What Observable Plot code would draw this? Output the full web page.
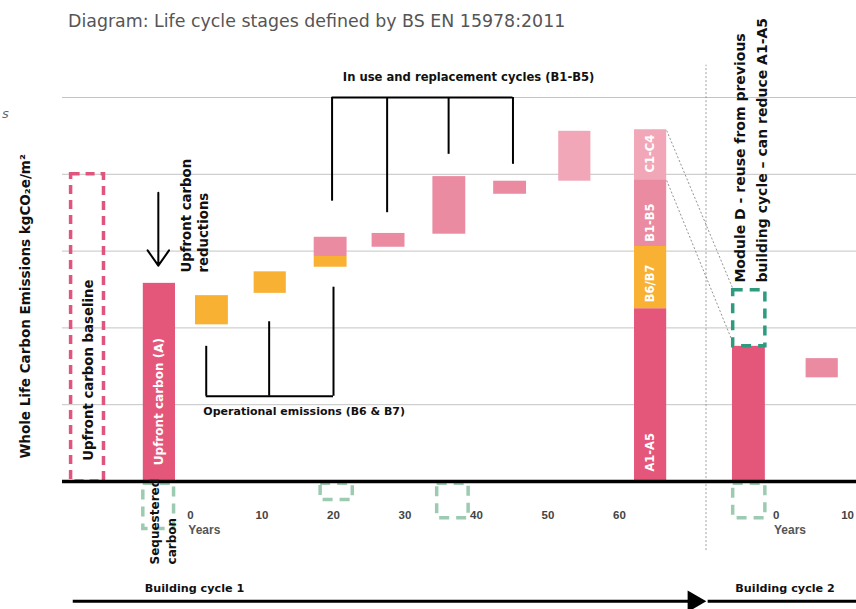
<!DOCTYPE html>
<html><head><meta charset="utf-8">
<script src="https://cdn.jsdelivr.net/npm/d3@7"></script>
<script src="https://cdn.jsdelivr.net/npm/@observablehq/plot@0.6"></script>
<style>
body{margin:0;background:#fff;}
#wrap{position:relative;width:856px;height:609px;overflow:hidden;}
#title{position:absolute;left:68px;top:11px;font:17.4px "DejaVu Sans";color:#555;white-space:nowrap;}
#frag{position:absolute;left:2px;top:106px;font:italic 13px "DejaVu Sans";color:#666}
</style></head><body>
<div id="wrap"><div id="chart"></div><div id="title">Diagram: Life cycle stages defined by BS EN 15978:2011</div><div id="frag">s</div></div>
<script>
// ---- data (x in years, y in emission units; cycle 2 years are offset) ----
const stages = ["A", "B6/B7", "B1-B5", "C1-C4"];
const stageColors = ["#e4577b", "#f8b133", "#ea8ba2", "#f2a7b8"];
const cycle2Offset = 81.9;
const cycle1Ticks = [0, 10, 20, 30, 40, 50, 60];
const cycle2Ticks = [0, 10];

const upfrontBars = [
  {stage: "A", cycle: 1, start: -6.6, end: -2.1, low: 0, high: 2.58},
  {stage: "A", cycle: 2, start: -6.1, end: -1.5, low: 0, high: 1.76}
];
const operationalBars = [
  {stage: "B6/B7", cycle: 1, start: 0.7, end: 5.3, low: 2.04, high: 2.42},
  {stage: "B6/B7", cycle: 1, start: 8.9, end: 13.4, low: 2.45, high: 2.73},
  {stage: "B6/B7", cycle: 1, start: 17.3, end: 21.9, low: 2.79, high: 2.93}
];
const replacementBars = [
  {stage: "B1-B5", cycle: 1, start: 17.3, end: 21.9, low: 2.93, high: 3.18},
  {stage: "B1-B5", cycle: 1, start: 25.4, end: 30.0, low: 3.05, high: 3.23},
  {stage: "B1-B5", cycle: 1, start: 33.9, end: 38.5, low: 3.22, high: 3.97},
  {stage: "B1-B5", cycle: 1, start: 42.4, end: 47.0, low: 3.74, high: 3.91},
  {stage: "B1-B5", cycle: 2, start: 4.2, end: 8.7, low: 1.35, high: 1.60}
];
const endOfLifeBars = [
  {stage: "C1-C4", cycle: 1, start: 51.5, end: 56.0, low: 3.91, high: 4.56}
];
const totalStack = [
  {stage: "A", label: "A1-A5", low: 0, high: 2.25, labelAt: 0.38},
  {stage: "B6/B7", label: "B6/B7", low: 2.25, high: 3.06, labelAt: 2.58},
  {stage: "B1-B5", label: "B1-B5", low: 3.06, high: 3.93, labelAt: 3.37},
  {stage: "C1-C4", label: "C1-C4", low: 3.93, high: 4.58, labelAt: 4.27}
];
const totalStackYears = [62.1, 66.6];
const baselineBox = {start: -16.7, end: -12.1, low: 0, high: 4.0};
const moduleDBox = {cycle: 2, start: -6.0, end: -1.5, low: 1.76, high: 2.49};
const sequesteredBoxes = [
  {cycle: 1, start: -6.6, end: -2.3, low: -0.62, high: -0.03},
  {cycle: 1, start: 18.2, end: 22.7, low: -0.24, high: -0.03},
  {cycle: 1, start: 34.5, end: 38.9, low: -0.48, high: -0.03},
  {cycle: 2, start: -6.0, end: -1.5, low: -0.48, high: -0.03}
];
const gridValues = [1, 2, 3, 4, 5];
const operationalLegs = [{x: 2.2, y: 1.76}, {x: 11.0, y: 2.08}, {x: 20.0, y: 2.53}];
const operationalBase = 1.11;
const replacementLegs = [{x: 19.8, y: 3.65}, {x: 27.5, y: 3.50}, {x: 36.1, y: 4.26}, {x: 45.1, y: 4.13}];
const replacementTop = 5.0;

// ---- derived ----
const T = (cycle, yr) => yr + (cycle === 2 ? cycle2Offset : 0);
const toRect = d => ({stage: d.stage, x1: T(d.cycle, d.start), x2: T(d.cycle, d.end), y1: d.low, y2: d.high});
const bars = [...upfrontBars, ...operationalBars, ...replacementBars, ...endOfLifeBars].map(toRect)
  .concat(totalStack.map(d => ({stage: d.stage, x1: totalStackYears[0], x2: totalStackYears[1], y1: d.low, y2: d.high})));
const stackMid = (totalStackYears[0] + totalStackYears[1]) / 2;
const xLeft = -17.9, xRight = 93.3, divider = 72.1;
const font = "DejaVu Sans";
const tickLabels = cycle1Ticks.map(t => ({x: t, t})).concat(cycle2Ticks.map(t => ({x: T(2, t), t})));

const chart = Plot.plot({
  width: 856, height: 609,
  marginLeft: 190, marginRight: 237, marginTop: 97, marginBottom: 128,
  x: {domain: [0, 60], axis: null},
  y: {domain: [0, 5], axis: null},
  color: {domain: stages, range: stageColors},
  marks: [
    Plot.ruleY(gridValues, {x1: xLeft, x2: xRight, stroke: "#c4c4c4", strokeWidth: 1}),
    Plot.ruleX([divider], {y1: -0.9, y2: 5.42, stroke: "#888", strokeWidth: 0.8, strokeDasharray: "2,2"}),
    Plot.link([{x1: totalStackYears[1], y1: 4.57, x2: T(2, moduleDBox.start), y2: 2.5},
               {x1: totalStackYears[1], y1: 3.92, x2: T(2, moduleDBox.start), y2: 1.8}],
      {x1: "x1", y1: "y1", x2: "x2", y2: "y2", stroke: "#777", strokeWidth: 0.8, strokeDasharray: "2,2"}),
    Plot.rect(bars, {x1: "x1", x2: "x2", y1: "y1", y2: "y2", fill: "stage"}),
    Plot.rect([baselineBox], {x1: "start", x2: "end", y1: "low", y2: "high", fill: "none", stroke: "#e0557e", strokeWidth: 3.5, strokeDasharray: "9,6"}),
    Plot.rect([moduleDBox].map(toRect), {x1: "x1", x2: "x2", y1: "y1", y2: "y2", fill: "none", stroke: "#2e9a7e", strokeWidth: 3.5, strokeDasharray: "10,7"}),
    Plot.rect(sequesteredBoxes.map(toRect), {x1: "x1", x2: "x2", y1: "y1", y2: "y2", fill: "none", stroke: "#9ccbb1", strokeWidth: 3.5, strokeDasharray: "10,7"}),
    Plot.ruleY([0], {x1: xLeft, x2: xRight, stroke: "#000", strokeWidth: 3.5}),
    // brackets
    Plot.ruleX(operationalLegs, {x: "x", y1: operationalBase, y2: "y", stroke: "#000", strokeWidth: 2}),
    Plot.ruleY([operationalBase], {x1: operationalLegs[0].x, x2: operationalLegs[2].x, stroke: "#000", strokeWidth: 2}),
    Plot.ruleX(replacementLegs, {x: "x", y1: replacementTop, y2: "y", stroke: "#000", strokeWidth: 2}),
    Plot.ruleY([replacementTop], {x1: replacementLegs[0].x, x2: replacementLegs[3].x, stroke: "#000", strokeWidth: 2}),
    Plot.arrow([{x: -4.5, y1: 3.76, y2: 2.81}], {x1: "x", x2: "x", y1: "y1", y2: "y2", stroke: "#000", strokeWidth: 2, headLength: 14, headAngle: 70}),
    // building cycle arrows
    Plot.ruleY([-1.56], {x1: -16.4, x2: 70.8, stroke: "#000", strokeWidth: 3}),
    Plot.dot([{x: 70.4, y: -1.56}], {x: "x", y: "y", symbol: "triangle", r: 8, fill: "#000", rotate: 90}),
    Plot.ruleY([-1.56], {x1: 72.4, x2: xRight, stroke: "#000", strokeWidth: 3}),
    // tick labels
    Plot.text(tickLabels, {x: "x", y: -0.44, text: d => String(d.t), fontFamily: "Liberation Sans", fontSize: 11.5, fill: "#444", fontWeight: 600}),
    Plot.text([T(1, -0.3), T(2, -0.3)], {x: d => d, y: -0.64, text: () => "Years", textAnchor: "start", fontFamily: "Liberation Sans", fontSize: 12, fill: "#555", fontWeight: 600}),
    Plot.text(["Building cycle 1", "Building cycle 2"], {x: [-6.4, 76.2], y: -1.39, text: d => d, textAnchor: "start", fontFamily: font, fontSize: 11.2, fontWeight: "bold", fill: "#111"}),
    // annotation texts
    Plot.text(["Whole Life Carbon Emissions kgCO\u2082e/m\u00B2"], {x: -23.1, y: 2.28, text: d => d, rotate: -90, fontFamily: font, fontSize: 13.5, fontWeight: "bold", fill: "#111"}),
    Plot.text(["Upfront carbon baseline"], {x: -14.3, y: 1.45, text: d => d, rotate: -90, fontFamily: font, fontSize: 13.3, fontWeight: "bold", fill: "#111"}),
    Plot.text(["Upfront carbon (A)"], {x: -4.35, y: 1.04, text: d => d, rotate: -90, fontFamily: font, fontSize: 12, fontWeight: "bold", fill: "#fff"}),
    Plot.text(totalStack, {x: stackMid, y: "labelAt", text: "label", rotate: -90, fontFamily: font, fontSize: 11.5, fontWeight: "bold", fill: "#fff"}),
    Plot.text(["Upfront carbon\nreductions"], {x: 0.5, y: 2.72, text: d => d, rotate: -90, textAnchor: "start", lineHeight: 1.3, fontFamily: font, fontSize: 13.3, fontWeight: "bold", fill: "#111"}),
    Plot.text(["Module D - reuse from previous\nbuilding cycle \u2013 can reduce A1-A5"], {x: T(2, -3.8), y: 2.59, text: d => d, rotate: -90, textAnchor: "start", lineHeight: 1.55, fontFamily: font, fontSize: 14, fontWeight: "bold", fill: "#111"}),
    Plot.text(["Sequestered\ncarbon"], {x: -4.0, y: -1.08, text: d => d, rotate: -90, textAnchor: "start", lineHeight: 1.4, fontFamily: font, fontSize: 12, fontWeight: "bold", fill: "#111"}),
    Plot.text(["In use and replacement cycles (B1-B5)"], {x: 38.9, y: 5.26, text: d => d, fontFamily: font, fontSize: 11.6, fontWeight: "bold", fill: "#111"}),
    Plot.text(["Operational emissions (B6 & B7)"], {x: 1.8, y: 0.91, text: d => d, textAnchor: "start", fontFamily: font, fontSize: 11, fontWeight: "bold", fill: "#111"})
  ]
});
document.getElementById("chart").appendChild(chart);
</script>
</body></html>
